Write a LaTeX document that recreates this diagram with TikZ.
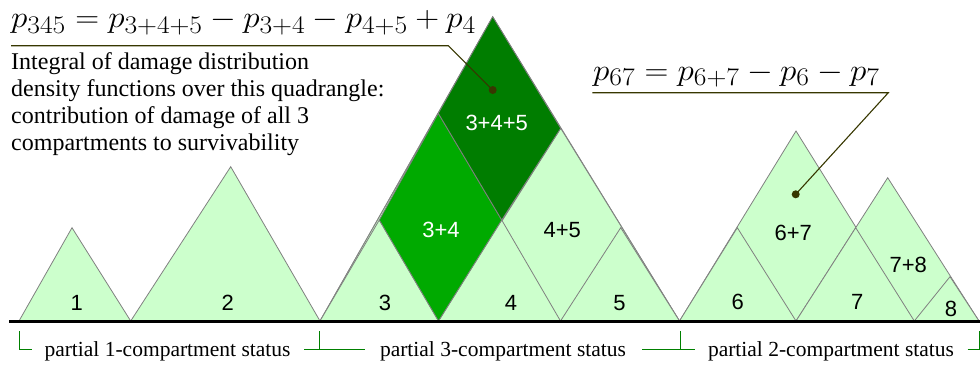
\documentclass[tikz,border=0pt]{standalone}
\usepackage{fontspec}
\newfontfamily\labelfont{Liberation Sans}
\newfontfamily\notefont{Liberation Serif}
\usetikzlibrary{positioning,calc}
\definecolor{palegreen}{RGB}{204,255,204}
\definecolor{midgreen}{RGB}{0,170,0}
\definecolor{deepgreen}{RGB}{0,125,0}
\definecolor{leadcol}{RGB}{55,55,0}
\definecolor{bracecol}{RGB}{0,128,0}
\newcommand{\bigmath}[1]{\scalebox{1.33}[1.22]{\fontsize{24.88}{30}\selectfont$#1$}}
\tikzset{tri/.style={draw=gray,fill=palegreen,line width=0.8pt},quad/.style={draw=gray,fill=#1,line width=0.8pt},num/.style={font=\labelfont\fontsize{22}{26}\selectfont,inner sep=0pt},numw/.style={num,text=white},leader/.style={draw=leadcol,line width=1.1pt},leaddot/.style={circle,fill=leadcol,inner sep=0pt,minimum size=8pt},brace/.style={draw=bracecol,line width=1pt},status/.style={font=\notefont\fontsize{21.5}{24}\selectfont,inner sep=0pt},formula/.style={inner sep=0pt}}

\begin{document}
\begin{tikzpicture}[x=1pt,y=-1pt]
\useasboundingbox (0,0) rectangle (980,365);
% base points and apexes
\coordinate (b0) at (19,321);\coordinate (b1) at (130.7,321);\coordinate (b2) at (320,321);
\coordinate (b3) at (438.5,321);\coordinate (b4) at (560.5,321);\coordinate (b5) at (679.5,321);
\coordinate (b6) at (796,321);\coordinate (b7) at (914.3,321);\coordinate (b8) at (979,321);
\coordinate (a1) at (72,227.7);\coordinate (a2) at (230.7,166.7);
\coordinate (a3) at (379.3,220);\coordinate (a4) at (501.7,220);\coordinate (a5) at (620.7,227.7);
\coordinate (a34) at (438.3,113.3);\coordinate (a45) at (560.7,128.3);\coordinate (a345) at (492.7,16.7);
\coordinate (a6) at (737.3,227.7);\coordinate (a7) at (855.7,227.7);\coordinate (a8) at (950,276.7);
\coordinate (a67) at (796,131);\coordinate (a78) at (887.7,177.7);
% triangles
\path[tri] (b0)--(a1)--(b1)--cycle;
\path[tri] (b1)--(a2)--(b2)--cycle;
\path[tri] (b2)--(a345)--(b5)--cycle;
\path[tri] (b2)--(a34)--(b4)--cycle;
\path[tri] (b3)--(a45)--(b5)--cycle;
\path[tri] (b2)--(a3)--(b3)--cycle;
\path[tri] (b3)--(a4)--(b4)--cycle;
\path[tri] (b4)--(a5)--(b5)--cycle;
\path[tri] (b5)--(a67)--(b7)--cycle;
\path[tri] (b6)--(a78)--(b8)--cycle;
\path[tri] (b5)--(a6)--(b6)--cycle;
\path[tri] (b6)--(a7)--(b7)--cycle;
\path[tri] (b7)--(a8)--(b8)--cycle;
\path[quad=midgreen] (a34)--(a3)--(b3)--(a4)--cycle;
\path[quad=deepgreen] (a345)--(a34)--(a4)--(a45)--cycle;
% ground line
\coordinate (g0) at (9,321);\coordinate (g1) at (980,321);
\draw[line width=3pt] (g0)--(g1);
% labels
\node[num] (n1) at (76.7,302.5) {1};
\node[num] (n2) at (227.7,302.5) {2};
\node[num] (n3) at (385,303) {3};
\node[num] (n4) at (511,303) {4};
\node[num] (n5) at (619.5,303) {5};
\node[num] (n6) at (737.7,302) {6};
\node[num] (n7) at (857.3,302) {7};
\node[num] (n8) at (951,309) {8};
\node[numw] (n34) at (441,230) {3+4};
\node[num] (n45) at (562.3,230) {4+5};
\node[numw] (n345) at (496.7,122.7) {3+4+5};
\node[num] (n67) at (793.3,233.3) {6+7};
\node[num] (n78) at (908.3,265) {7+8};
% formulas and leaders
\node[formula,anchor=base west] (f345) at (11,27.5) {\bigmath{p_{345}=p_{3+4+5}-p_{3+4}-p_{4+5}+p_4}};
\node[formula,anchor=base west] (f67) at (593,80) {\bigmath{p_{67}=p_{6+7}-p_6-p_7}};
\node[leaddot] (d345) at (492.7,90) {};
\node[leaddot] (d67) at (795.7,194.3) {};
\coordinate (u345) at (11,45.7);\coordinate (k345) at (448.3,45.7);
\coordinate (u67) at (592.3,92.7);\coordinate (k67) at (888.3,92.7);
\draw[leader] (u345)--(k345)--(d345.center);
\draw[leader] (u67)--(k67)--(d67.center);
\node[anchor=north west,align=left,inner sep=0pt,font=\notefont\fontsize{24}{27}\selectfont] (note) at (11,52.5) {Integral of damage distribution\\density functions over this quadrangle:\\contribution of damage of all 3\\compartments to survivability};
% status brackets
\node[status,anchor=base] (s1) at (167.5,356) {partial 1-compartment status};
\node[status,anchor=base] (s3) at (503,356) {partial 3-compartment status};
\node[status,anchor=base] (s2) at (831,356) {partial 2-compartment status};
\draw[brace] (19.5,331)--(19.5,349)--(31.7,349);
\foreach \x/\l/\r in {319.5/304.3/365,680.5/642.3/695}
  \draw[brace] (\l,349)--(\r,349) (\x,331)--(\x,349);
\draw[brace] (967.7,349)--(979,349)--(979,331);
\end{tikzpicture}
\end{document}
